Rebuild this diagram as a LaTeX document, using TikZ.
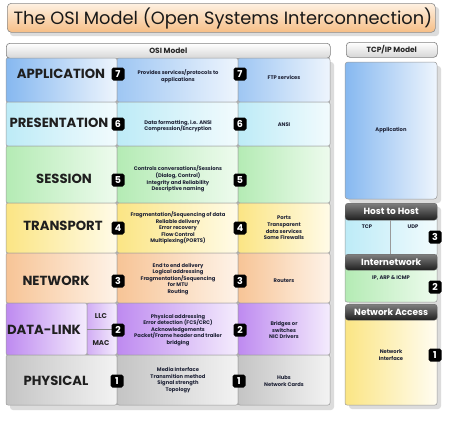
\documentclass[tikz,border=0pt]{standalone}
\usepackage{fontspec}
\setmainfont{Poppins}
\usetikzlibrary{shadows}
\definecolor{txt}{HTML}{1E2236}
\definecolor{appL}{HTML}{86B8F0}\definecolor{appR}{HTML}{EEF5FD}
\definecolor{preL}{HTML}{BDEBF7}\definecolor{preR}{HTML}{F2FBFD}
\definecolor{sesL}{HTML}{B4EBB4}\definecolor{sesR}{HTML}{EEFBEE}
\definecolor{traL}{HTML}{FBE584}\definecolor{traR}{HTML}{FFFBE8}
\definecolor{netL}{HTML}{F7C496}\definecolor{netR}{HTML}{FEF3E8}
\definecolor{dllL}{HTML}{BE8AF0}\definecolor{dllR}{HTML}{F4ECFD}
\definecolor{phyL}{HTML}{C4C4C4}\definecolor{phyR}{HTML}{F3F3F3}
\definecolor{ttlT}{HTML}{FEF1E2}\definecolor{ttlB}{HTML}{F6BE86}
\begin{document}
\begin{tikzpicture}[x=1pt,y=-1pt,
  cell/.style={draw=black!40, line width=0.5pt, rounded corners=2pt},
  layer/.style={font=\fontsize{13.2}{14}\selectfont\bfseries, text=black!88, inner sep=0pt},
  desc/.style={font=\fontsize{5.2}{6.6}\selectfont\bfseries, align=center, text=txt, inner sep=0pt},
  badge/.style={fill=black, rounded corners=1.8pt, minimum size=13pt, inner sep=0pt, text=white, font=\fontsize{9.5}{9.5}\selectfont\bfseries},
  hdr/.style={draw=black!50, line width=0.6pt, rounded corners=3.5pt, top color=white, bottom color=black!16, font=\fontsize{7.5}{8}\selectfont\bfseries, text=black!85, inner sep=0pt},
  darkhdr/.style={draw=black!60, rounded corners=3pt, top color=black!50, bottom color=black!88, text=white, font=\fontsize{9}{10}\selectfont\bfseries, inner sep=0pt},
  shadowbox/.style={fill=black!30, opacity=0.45, rounded corners=3pt}]
\useasboundingbox (0,0) rectangle (454,421);
\fill[white] (0,0) rectangle (454,421);

% title
\fill[shadowbox] (10,7) rectangle (439,36);
\node[draw=black!45, line width=0.6pt, rounded corners=4pt, top color=ttlT, bottom color=ttlB,
  minimum width=428pt, minimum height=29pt, anchor=north west, inner sep=0pt] (title) at (7,3) {};
\node[anchor=west, font=\fontsize{17.8}{19}\selectfont, text=black!90] (titletext) at (10,18) {The OSI Model (Open Systems Interconnection)};

% headers
\node[hdr, minimum width=324pt, minimum height=15pt, anchor=north west] (osihdr) at (6,43) {OSI Model};
\node[hdr, minimum width=91pt, minimum height=15pt, anchor=north west] (tcphdr) at (346,42) {TCP/IP Model};

% table shadow
\fill[shadowbox] (10,62) rectangle (334,410);

% rows: app
\draw[cell, left color=appL, right color=appR] (6,58) rectangle (117,102);
\draw[cell, left color=appL!80, right color=appR] (117,58) rectangle (238,102);
\draw[cell, left color=appL!80, right color=appR] (238,58) rectangle (330,102);
% pres
\draw[cell, left color=preL, right color=preR] (6,102) rectangle (117,146);
\draw[cell, left color=preL, right color=preR] (117,102) rectangle (238,146);
\draw[cell, left color=preL, right color=preR] (238,102) rectangle (330,146);
% session
\draw[cell, left color=sesL, right color=sesR] (6,146) rectangle (117,203);
\draw[cell, left color=sesL, right color=sesR] (117,146) rectangle (238,203);
\draw[cell, left color=sesL, right color=sesR] (238,146) rectangle (330,203);
% transport
\draw[cell, left color=traL, right color=traR] (6,203) rectangle (117,253);
\draw[cell, left color=traL, right color=traR] (117,203) rectangle (238,253);
\draw[cell, left color=traL, right color=traR] (238,203) rectangle (330,253);
% network
\draw[cell, left color=netL, right color=netR] (6,253) rectangle (117,303);
\draw[cell, left color=netL, right color=netR] (117,253) rectangle (238,303);
\draw[cell, left color=netL, right color=netR] (238,253) rectangle (330,303);
% data link
\draw[cell, left color=dllL, right color=dllR] (6,303) rectangle (87,355);
\draw[cell, left color=dllL!70, right color=dllR] (87,303) rectangle (117,355);
\draw[cell, left color=dllL, right color=dllR] (117,303) rectangle (238,355);
\draw[cell, left color=dllL, right color=dllR] (238,303) rectangle (330,355);
% physical
\draw[cell, left color=phyL, right color=phyR] (6,355) rectangle (117,405);
\draw[cell, left color=phyL, right color=phyR] (117,355) rectangle (238,405);
\draw[cell, left color=phyL, right color=phyR] (238,355) rectangle (330,405);

% layer names
\node[layer] (lapp) at (61,74) {APPLICATION};
\node[layer] (lpre) at (59,123) {PRESENTATION};
\node[layer] (lses) at (64,179) {SESSION};
\node[layer] (ltra) at (63,226) {TRANSPORT};
\node[layer] (lnet) at (56,281) {NETWORK};
\node[layer] (ldl) at (44,330) {DATA-LINK};
\node[layer] (lphy) at (56,381) {PHYSICAL};
\node[font=\fontsize{7}{8}\selectfont\bfseries, text=black!85] (llc) at (101,316) {LLC};
\node[font=\fontsize{7}{8}\selectfont\bfseries, text=black!85] (mac) at (101,343) {MAC};
\coordinate (dlA) at (87,329);
\coordinate (dlB) at (112,329);
\draw[black!45, line width=0.5pt] (dlA) -- (dlB);

% badges
\node[badge] (b7a) at (118,74) {7};  \node[badge] (b7b) at (240,74) {7};
\node[badge] (b6a) at (118,124) {6}; \node[badge] (b6b) at (240,124) {6};
\node[badge] (b5a) at (118,180) {5}; \node[badge] (b5b) at (240,180) {5};
\node[badge] (b4a) at (118,228) {4}; \node[badge] (b4b) at (240,228) {4};
\node[badge] (b3a) at (118,281) {3}; \node[badge] (b3b) at (240,281) {3};
\node[badge] (b2a) at (118,330) {2}; \node[badge] (b2b) at (240,330) {2};
\node[badge] (b1a) at (117,381) {1}; \node[badge] (b1b) at (239,381) {1};

% middle descriptions
\node[desc] (dapp) at (178,76) {Provides services/protocols to\\applications};
\node[desc] (dpre) at (178,126) {Data formatting, i.e. ANSI\\Compression/Encryption};
\node[desc] (dses) at (178,179) {Controls conversations/Sessions\\(Dialog, Control)\\Integrity and Reliability\\Descriptive naming};
\node[desc] (dtra) at (178,228) {Fragmentation/Sequencing of data\\Reliable delivery\\Error recovery\\Flow Control\\Multiplexing(PORTS)};
\node[desc] (dnet) at (178,279) {End to end delivery\\Logical addressing\\Fragmentation/Sequencing\\for MTU\\Routing};
\node[desc] (ddl) at (178,330) {Physical addressing\\Error detection (FCS/CRC)\\Acknowledgements\\Packet/Frame header and trailer\\bridging};
\node[desc] (dphy) at (178,380) {Media Interface\\Transmition method\\Signal strength\\Topology};

% right descriptions
\node[desc] (rapp) at (284,77) {FTP services};
\node[desc] (rpre) at (284,125) {ANSI};
\node[desc] (rtra) at (284,228) {Ports\\Transparent\\data services\\Some Firewalls};
\node[desc] (rnet) at (284,281) {Routers};
\node[desc] (rdl) at (284,330) {Bridges or\\switches\\NIC Drivers};
\node[desc] (rphy) at (284,381) {Hubs\\Network Cards};

% TCP/IP column
\fill[shadowbox] (349,66) rectangle (441,203);
\fill[shadowbox] (349,207) rectangle (441,409);
\draw[cell, rounded corners=3pt, left color=appL, right color=appR] (345,62) rectangle (437,199);
\node[desc] (tapp) at (391,130) {Application};

\draw[cell, left color=preL, right color=preR] (345,214) rectangle (437,256);
\node[darkhdr, minimum width=92pt, minimum height=17pt, anchor=north west] (hth) at (345,203) {Host to Host};
\coordinate (divT) at (390,220);
\coordinate (divB) at (390,256);
\draw[black!40, line width=0.5pt] (divT) -- (divB);
\node[desc] (ttcp) at (367,227) {TCP};
\node[desc] (tudp) at (413,227) {UDP};

\draw[cell, left color=sesL, right color=sesR] (345,262) rectangle (437,302);
\node[darkhdr, minimum width=92pt, minimum height=16pt, anchor=north west] (inw) at (345,254) {Internetwork};
\node[desc] (tip) at (391,278) {IP, ARP \& ICMP};

\draw[cell, left color=traL, right color=traR!60!white] (345,312) rectangle (437,405);
\node[darkhdr, minimum width=92pt, minimum height=16pt, anchor=north west] (nac) at (345,304) {Network Access};
\node[desc] (tni) at (391,355) {Network\\Interface};

\node[badge] (t3) at (435,237) {3};
\node[badge] (t2) at (435,287) {2};
\node[badge] (t1) at (435,355) {1};
\end{tikzpicture}
\end{document}
